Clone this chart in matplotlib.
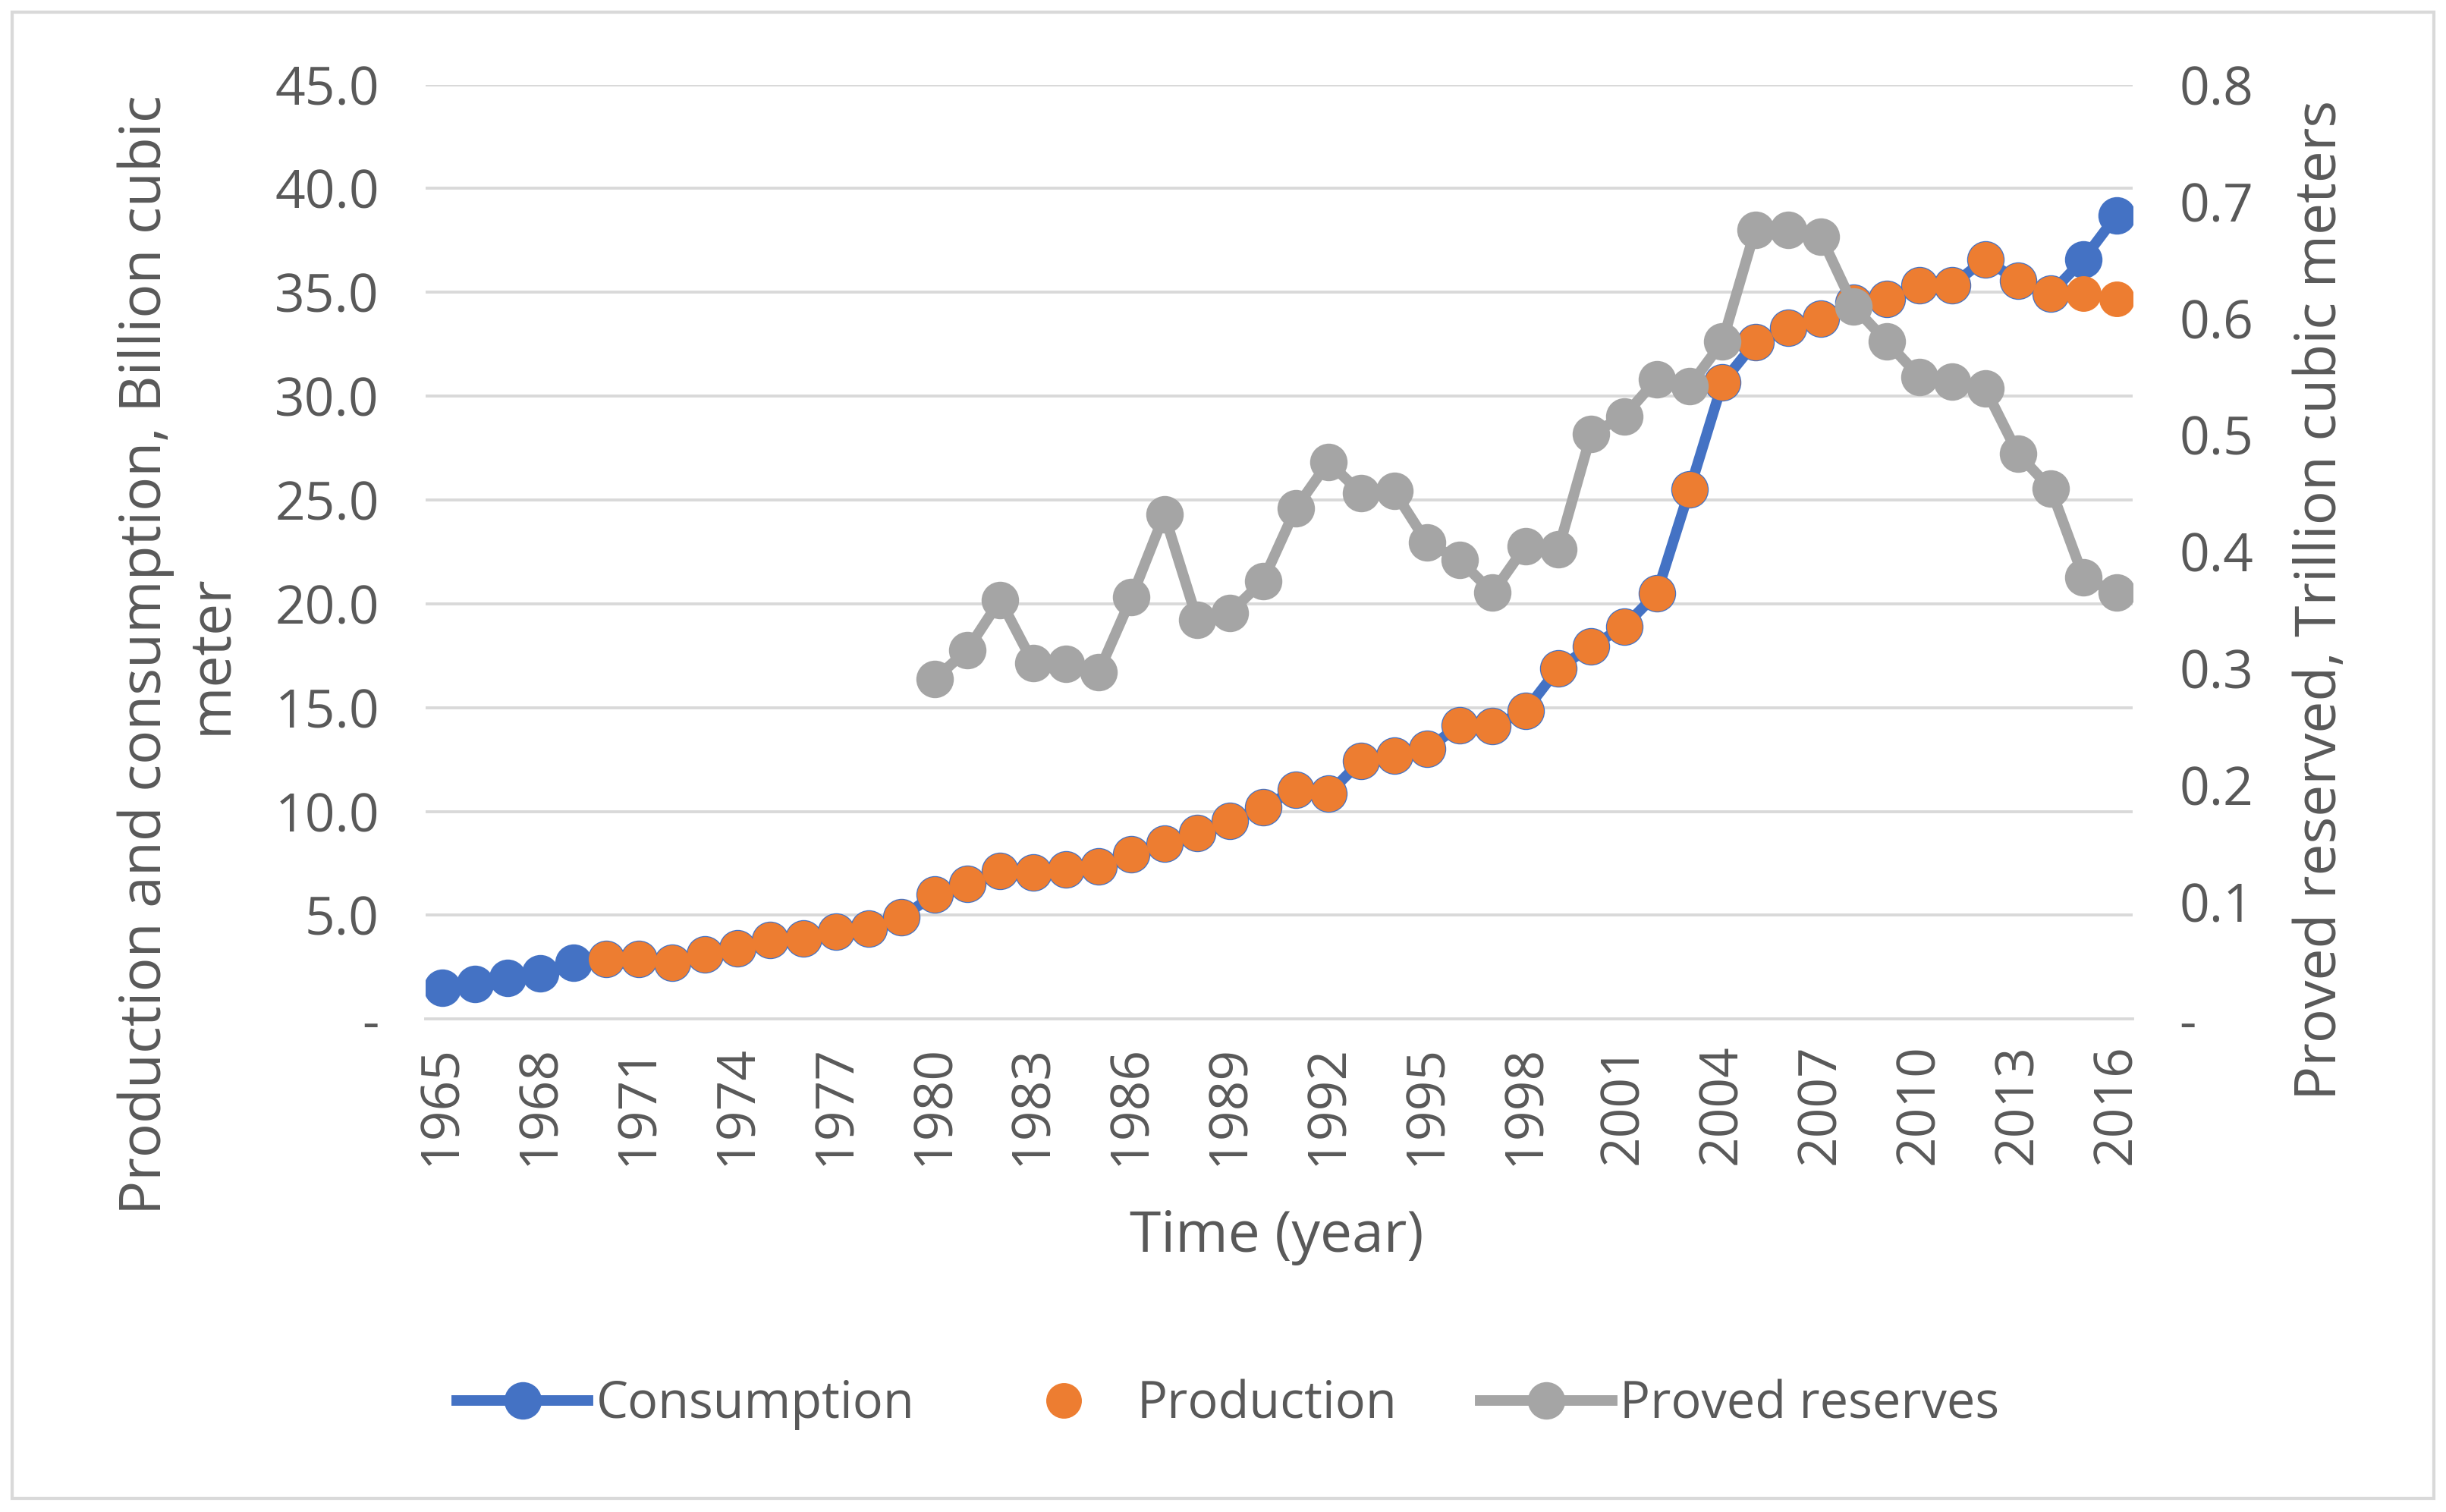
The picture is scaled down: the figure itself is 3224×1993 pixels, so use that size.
import matplotlib
matplotlib.use("Agg")
import matplotlib.pyplot as plt
from matplotlib.lines import Line2D
from matplotlib.patches import Rectangle
from matplotlib.ticker import FixedLocator, FuncFormatter

# ---------------- data ----------------
years = list(range(1965, 2017))
consumption = [1.5, 1.7, 2.0, 2.2, 2.7,
               2.9, 2.9, 2.7, 3.1, 3.4, 3.8, 3.9, 4.2, 4.35, 4.9,
               6.0, 6.5, 7.15, 7.05, 7.2, 7.35, 7.95, 8.45, 8.95, 9.55,
               10.2, 11.05, 10.85, 12.45, 12.7, 13.0, 14.15, 14.1, 14.85, 16.9,
               17.95, 18.9, 20.5, 25.5, 30.65, 32.6, 33.3, 33.75, 34.5, 34.7,
               35.35, 35.35, 36.6, 35.55, 34.95, 36.6, 38.7]
production_years = list(range(1970, 2017))
production = [2.9, 2.9, 2.7, 3.1, 3.4, 3.8, 3.9, 4.2, 4.35, 4.9,
              6.0, 6.5, 7.15, 7.05, 7.2, 7.35, 7.95, 8.45, 8.95, 9.55,
              10.2, 11.05, 10.85, 12.45, 12.7, 13.0, 14.15, 14.1, 14.85, 16.9,
              17.95, 18.9, 20.5, 25.5, 30.65, 32.6, 33.3, 33.75, 34.5, 34.7,
              35.35, 35.35, 36.6, 35.55, 34.95, 34.95, 34.7]
reserve_years = list(range(1980, 2017))
reserves = [0.291, 0.316, 0.359, 0.305, 0.304, 0.297, 0.361, 0.432, 0.342, 0.348,
            0.375, 0.437, 0.477, 0.450, 0.452, 0.408, 0.393, 0.365, 0.405, 0.402,
            0.501, 0.516, 0.548, 0.542, 0.580, 0.676, 0.676, 0.670, 0.610, 0.580,
            0.550, 0.546, 0.540, 0.484, 0.454, 0.378, 0.365]
x_ticks = list(range(1965, 2017, 3))
left_ticks = [0, 5, 10, 15, 20, 25, 30, 35, 40, 45]
right_ticks = [0, 0.1, 0.2, 0.3, 0.4, 0.5, 0.6, 0.7, 0.8]

# ---------------- style ----------------
plt.rcParams['font.family'] = ['Open Sans', 'DejaVu Sans']
TXT = '#595959'
GRID = '#D9D9D9'
BLUE = '#4472C4'
ORANGE = '#ED7D31'
GRAY = '#A5A5A5'
FS_TICK = 25
FS_LEG = 24
FS_LAB = 27
LW = 5.0
MS = 17.8

fig = plt.figure(figsize=(16.12, 9.965), dpi=200)
ax = fig.add_axes([0.174, 0.326, 0.698, 0.618])

ax.plot(years, consumption, color=BLUE, lw=LW, marker='o', ms=MS,
        markeredgewidth=0, zorder=3, label='Consumption')
ax.plot(production_years, production, color=ORANGE, lw=0, marker='o', ms=MS - 0.9,
        markeredgewidth=0, zorder=4, label='Production')

ax.set_xlim(1964.5, 2016.5)
ax.set_ylim(0, 45)
ax.yaxis.set_major_locator(FixedLocator(left_ticks))
ax.yaxis.set_major_formatter(FuncFormatter(lambda v, p: '-' if abs(v) < 1e-9 else f'{v:.1f}'))
ax.set_xticks(x_ticks)
ax.set_xticklabels([str(y) for y in x_ticks], rotation=90)
ax.grid(axis='y', color=GRID, lw=1.4, zorder=0)
ax.set_axisbelow(True)
for s in ['top', 'right', 'left']:
    ax.spines[s].set_visible(False)
ax.spines['bottom'].set_color(GRID)
ax.spines['bottom'].set_linewidth(1.4)
ax.tick_params(axis='both', length=0, colors=TXT, labelsize=FS_TICK)
ax.tick_params(axis='y', pad=22)
ax.tick_params(axis='x', pad=12)

ax2 = ax.twinx()
ax2.plot(reserve_years, reserves, color=GRAY, lw=LW, marker='o', ms=MS,
         markeredgewidth=0, zorder=5, label='Proved reserves')
ax2.set_ylim(0, 0.8)
ax2.yaxis.set_major_locator(FixedLocator(right_ticks))
ax2.yaxis.set_major_formatter(FuncFormatter(lambda v, p: '-' if abs(v) < 1e-9 else f'{v:.1f}'))
for s in ['top', 'right', 'left', 'bottom']:
    ax2.spines[s].set_visible(False)
ax2.tick_params(axis='y', length=0, colors=TXT, labelsize=FS_TICK, pad=22)

# axis titles
fig.text(0.522, 0.182, 'Time (year)', ha='center', va='center', fontsize=FS_LAB, color=TXT)
fig.text(0.073, 0.567, 'Production and consumption, Billion cubic\nmeter', ha='center', va='center',
         rotation=90, fontsize=FS_LAB, color=TXT, linespacing=1.2, multialignment='center')
fig.text(0.949, 0.603, 'Proved reserved, Trillion cubic meters', ha='center', va='center',
         rotation=90, fontsize=FS_LAB, color=TXT)

# legend
handles = [Line2D([], [], color=BLUE, lw=LW, marker='o', ms=MS, markeredgewidth=0),
           Line2D([], [], color=ORANGE, lw=0, marker='o', ms=MS - 0.9, markeredgewidth=0),
           Line2D([], [], color=GRAY, lw=LW, marker='o', ms=MS, markeredgewidth=0)]
leg = fig.legend(handles, ['Consumption', 'Production', 'Proved reserves'],
                 loc='center', bbox_to_anchor=(0.502, 0.071), ncol=3, frameon=False,
                 fontsize=FS_LEG, handlelength=2.6, handletextpad=0.15, columnspacing=1.65)
for t in leg.get_texts():
    t.set_color(TXT)

# outer border
fig.patches.append(Rectangle((0.005, 0.009), 0.990, 0.983, transform=fig.transFigure,
                             fill=False, edgecolor=GRID, lw=1.5))

fig.savefig('out.png', dpi=200, facecolor='white')
